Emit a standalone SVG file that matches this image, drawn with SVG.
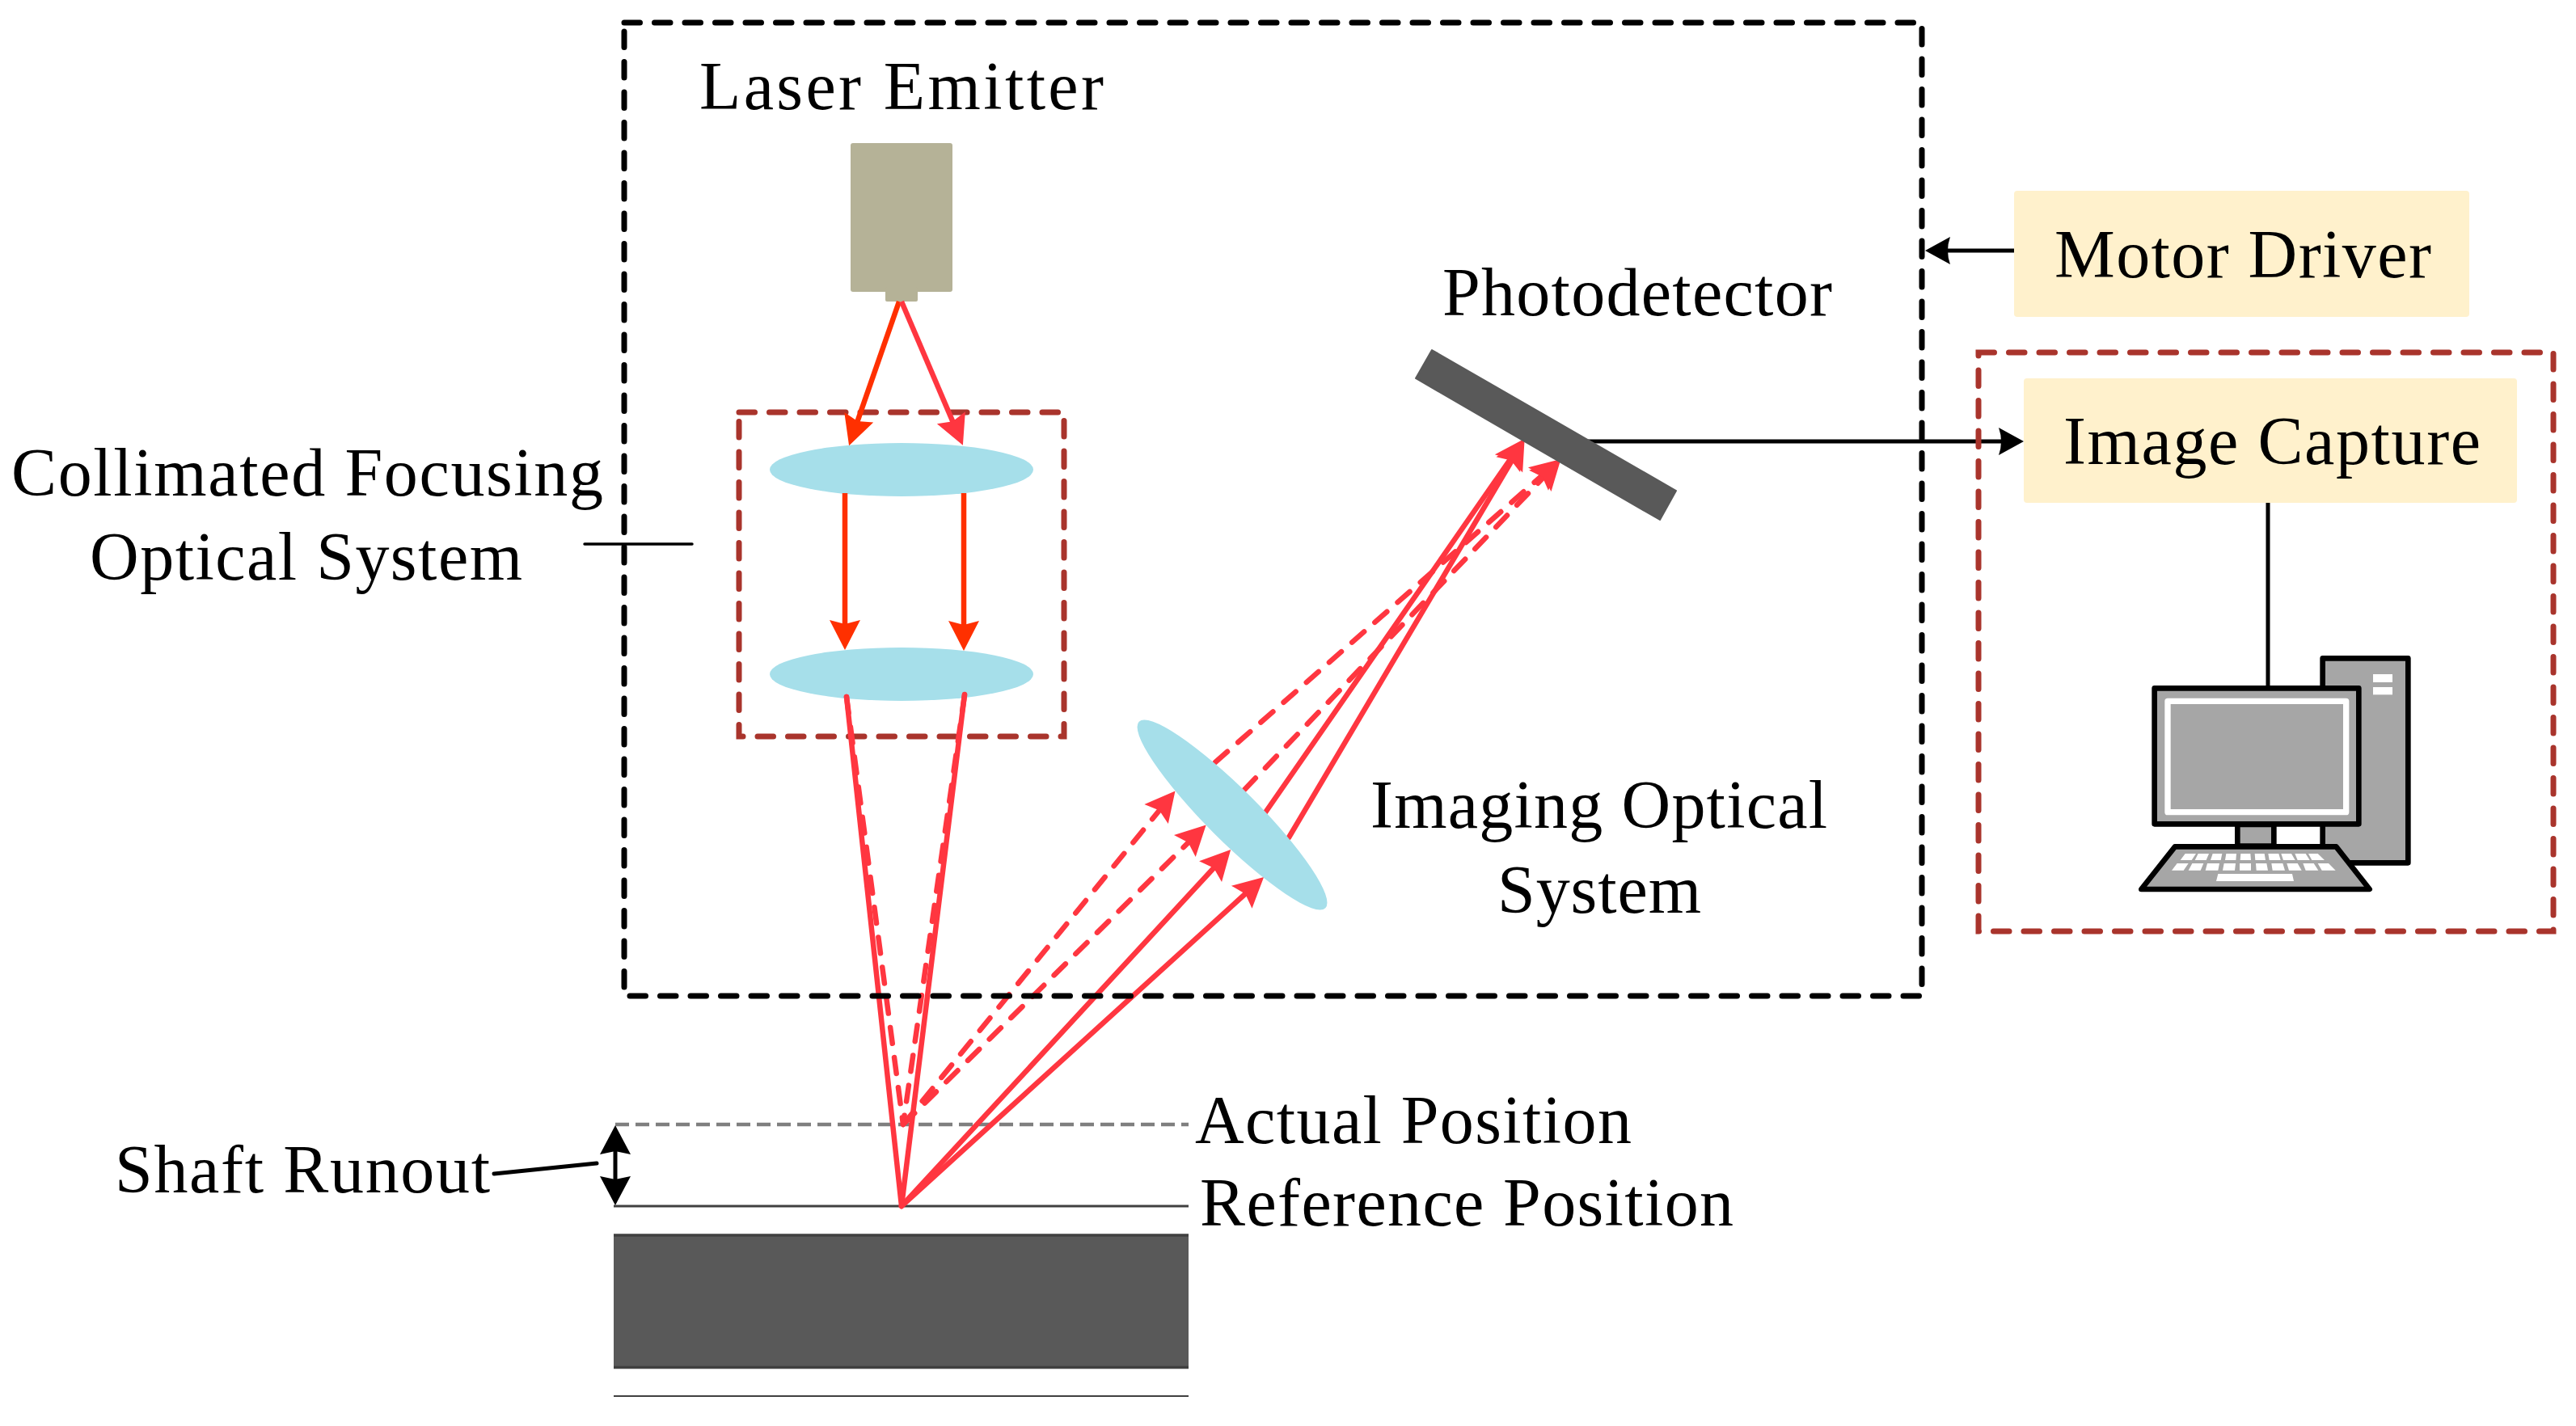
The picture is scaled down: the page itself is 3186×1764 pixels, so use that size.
<svg xmlns="http://www.w3.org/2000/svg" width="3186" height="1764" viewBox="0 0 3186 1764">
<style>
text{font-family:"Liberation Serif","Times New Roman",serif;font-size:84px;fill:#000}
.lens{fill:#A6DFEA}
.dbox{fill:none;stroke-width:7;stroke-linecap:round;stroke-dasharray:19.5 18}
.k{stroke:#000}.b{stroke:#A9342C}
.yel{fill:#FFF1CC}
.dark{fill:#595959}
.or{fill:none;stroke:#FF3000;stroke-width:6.5;marker-end:url(#ho)}
.rd{fill:none;stroke:#FF3640;stroke-width:6.5;stroke-linecap:round}
.ar{marker-end:url(#hr)}
.ds{stroke-dasharray:20 17.5}
.bl{fill:none;stroke:#000;stroke-width:5;stroke-linecap:round}
.pc{fill:#A6A6A6;stroke:#000;stroke-width:20;stroke-linejoin:round}
.key{fill:#fff}
</style>
<defs>
<marker id="ho" markerUnits="userSpaceOnUse" markerWidth="50" markerHeight="50" refX="25" refY="25" orient="auto" viewBox="0 0 50 50"><path d="M40 25L3 6L8 25L3 44Z" fill="#FF3000"/></marker>
<marker id="hor" markerUnits="userSpaceOnUse" markerWidth="50" markerHeight="50" refX="25" refY="25" orient="auto" viewBox="0 0 50 50"><path d="M40 25L3 6L8 25L3 44Z" fill="#FF3640"/></marker>
<marker id="hr" markerUnits="userSpaceOnUse" markerWidth="50" markerHeight="50" refX="25" refY="25" orient="auto" viewBox="0 0 50 50"><path d="M40 25L3 6L9 25L3 44Z" fill="#FF3640"/></marker>
<marker id="hk" markerUnits="userSpaceOnUse" markerWidth="50" markerHeight="50" refX="25" refY="25" orient="auto" viewBox="0 0 50 50"><path d="M40 25L9 8Q15 25 9 42Z" fill="#000"/></marker>
</defs>
<g id="target">
<rect x="759" y="1527" width="711" height="165" class="dark"/>
<path d="M759 1528H1470M759 1691.500H1470" stroke="#404040" stroke-width="3.500" fill="none"/>
<path d="M759 1727H1470" stroke="#404040" stroke-width="2" fill="none"/>
<path d="M761 1391H1470" stroke="#7F7F7F" stroke-width="4.500" stroke-dasharray="17 8" fill="none"/>
<path d="M759 1492H1470" stroke="#404040" stroke-width="3" fill="none"/>
</g>
<g id="laser-emitter">
<rect x="1052" y="177" width="126" height="184" rx="3" fill="#B5B297"/>
<rect x="1095" y="355" width="40" height="18" rx="2" fill="#B5B297"/>
<text x="865" y="135" textLength="500" lengthAdjust="spacing">Laser Emitter</text>
</g>
<g id="collimated-system">
<rect x="914" y="510" width="402" height="401" class="dbox b"/>
<ellipse cx="1115" cy="581" rx="163" ry="33" class="lens"/>
<ellipse cx="1115" cy="834" rx="163" ry="33" class="lens"/>
<text x="14" y="613" textLength="732" lengthAdjust="spacing">Collimated Focusing</text>
<text x="111" y="717" textLength="535" lengthAdjust="spacing">Optical System</text>
</g>
<g id="connectors">
<path d="M1112 373L1055 537" class="or"/>
<path d="M1045 610V789" class="or"/>
<path d="M1192 610V790" class="or"/>
<path d="M1115 373L1185 537" class="rd" style="stroke-linecap:butt;marker-end:url(#hor)"/>
<path d="M1047 862L1115 1492L1193 859" class="rd" style="stroke-linejoin:miter"/>
<path d="M1047 862L1117 1391L1193 860" class="rd ds"/>
<path d="M1115 1492L1512 1062" class="rd ar"/>
<path d="M1115 1492L1552 1095" class="rd ar"/>
<path d="M1117 1391L1444 990" class="rd ar ds"/>
<path d="M1117 1391L1481 1031" class="rd ar ds"/>
<path d="M1565 1005L1877 555" class="rd ar"/>
<path d="M1594 1036L1878 556" class="rd ar"/>
<path d="M1503 943L1919 578" class="rd ar ds"/>
<path d="M1539 977L1920 579" class="rd ar ds"/>
<path d="M1961 546H2488" class="bl" style="marker-end:url(#hk)"/>
<path d="M2497 310H2396" class="bl" style="marker-end:url(#hk)"/>
<path d="M2805 620V850" class="bl" style="stroke-linecap:butt"/>
<path d="M723 673H856" class="bl" style="stroke-width:3.500"/>
<path d="M611 1452L738 1439" class="bl"/>
<path d="M761 1412V1471" class="bl"/>
<path d="M761 1392L780 1428L761 1424L742 1428Z M761 1491L780 1455L761 1459L742 1455Z" fill="#000"/>
</g>
<g id="imaging-lens">
<ellipse cx="1524" cy="1008" rx="163" ry="32" transform="rotate(45 1524 1008)" class="lens"/>
<text x="1695" y="1024" textLength="565" lengthAdjust="spacing">Imaging Optical</text>
<text x="1852" y="1129" textLength="252" lengthAdjust="spacing">System</text>
</g>
<g id="photodetector">
<path d="M1771 433L2073 607L2053 643L1751 468Z" class="dark" stroke="#595959" stroke-width="2" stroke-linejoin="round"/>
<text x="1784" y="390" textLength="482" lengthAdjust="spacing">Photodetector</text>
</g>
<g id="motor-driver">
<rect x="2491" y="236" width="563" height="156" rx="4" class="yel"/>
<text x="2541" y="343" textLength="466" lengthAdjust="spacing">Motor Driver</text>
</g>
<g id="main-frame"><rect x="772" y="28" width="1605" height="1204" class="dbox k"/></g>
<g id="pc-frame"><rect x="2447" y="436" width="711" height="716" class="dbox b"/></g>
<g id="image-capture">
<rect x="2503" y="468" width="610" height="154" rx="4" class="yel"/>
<text x="2552" y="574" textLength="516" lengthAdjust="spacing">Image Capture</text>
</g>
<g id="computer" transform="translate(2580 760) scale(.33333)">
<rect x="878" y="163" width="317" height="759" class="pc"/>
<rect x="1065" y="222" width="72" height="30" class="key"/>
<rect x="1065" y="270" width="72" height="28" class="key"/>
<rect x="562" y="780" width="135" height="80" class="pc"/>
<rect x="254" y="274" width="758" height="504" class="pc"/>
<rect x="303" y="322" width="662" height="412" fill="none" stroke="#fff" stroke-width="22" stroke-linejoin="round"/>
<path d="M330 862H928L1052 1020H205Z" class="pc"/>
<path class="key" d="M368 888H408L392 912H350ZM416 888H456L446 912H404ZM470 888H505L500 912H462ZM520 888H558L556 912H516ZM574 888H610L612 912H572ZM626 888H662L666 912H628ZM676 888H715L722 912H680ZM724 888H762L776 912H732ZM775 888H815L830 912H785ZM825 888H860L885 912H838ZM338 924H380L362 950H318ZM394 924H436L425 950H380ZM450 924H495L490 950H443ZM512 924H555L552 950H507ZM570 924H612V950H570ZM630 924H670L675 950H632ZM688 924H730L738 950H692ZM745 924H785L800 950H753ZM805 924H845L862 950H815ZM860 924H900L926 950H875ZM490 963H765L771 990H483Z"/>
</g>
<g id="labels">
<text x="1478" y="1414" textLength="540" lengthAdjust="spacing">Actual Position</text>
<text x="1484" y="1516" textLength="660" lengthAdjust="spacing">Reference Position</text>
<text x="142" y="1475" textLength="464" lengthAdjust="spacing">Shaft Runout</text>
</g>
</svg>
